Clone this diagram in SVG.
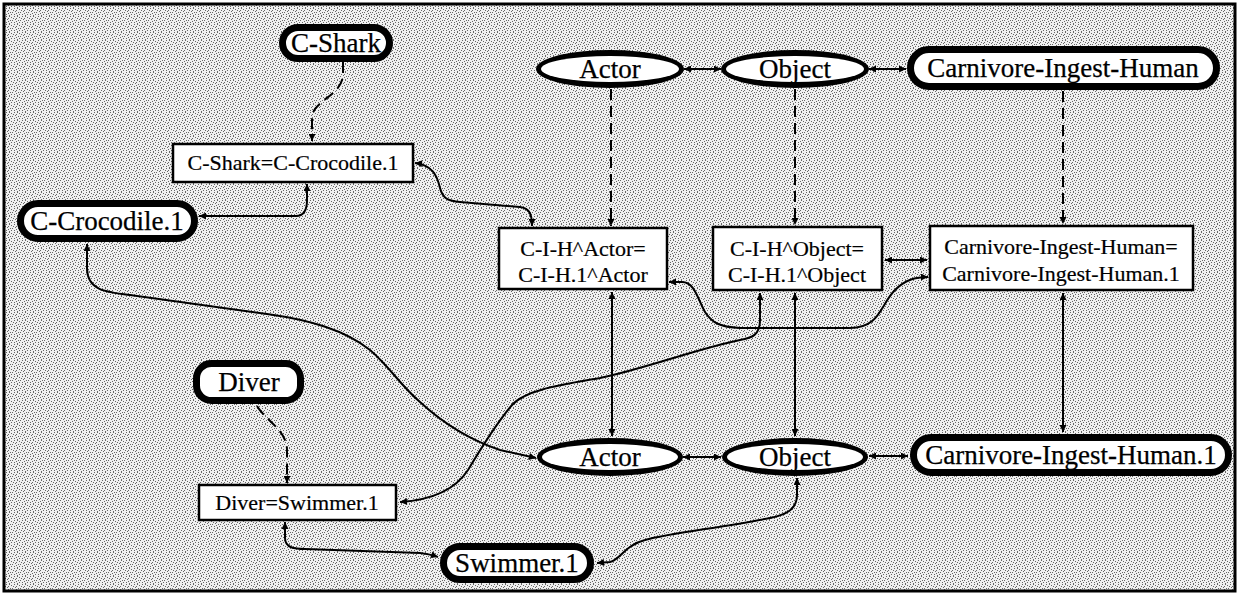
<svg xmlns="http://www.w3.org/2000/svg" width="1239" height="596" viewBox="0 0 1239 596">
  <defs>
    <!-- dithered grey paper -->
    <pattern id="dither" width="8" height="8" patternUnits="userSpaceOnUse">
      <rect width="8" height="8" fill="#f0f0f0"/>
      <g fill="#666">
        <rect x="1" y="0" width="1" height="1"/>
        <rect x="6" y="0" width="1" height="1"/>
        <rect x="3" y="1" width="1" height="1"/>
        <rect x="0" y="2" width="1" height="1"/>
        <rect x="5" y="2" width="1" height="1"/>
        <rect x="7" y="3" width="1" height="1"/>
        <rect x="2" y="4" width="1" height="1"/>
        <rect x="4" y="4" width="1" height="1"/>
        <rect x="0" y="5" width="1" height="1"/>
        <rect x="6" y="6" width="1" height="1"/>
        <rect x="3" y="6" width="1" height="1"/>
        <rect x="1" y="7" width="1" height="1"/>
      </g>
    </pattern>
    <marker id="head" viewBox="0 0 10 10" refX="10" refY="5" markerWidth="9" markerHeight="7" markerUnits="userSpaceOnUse" orient="auto-start-reverse">
      <path d="M0,0 L10,5 L0,10 z" fill="#000"/>
    </marker>
  </defs>
  <style>
    .pill { fill: #fff; stroke: #000; stroke-width: 7; }
    .box { fill: #fff; stroke: #000; stroke-width: 2.5; }
    .ring { fill: #000; }
    .hole { fill: #fff; }
    .big { font-family: "Liberation Serif", "Times New Roman", serif; font-size: 27px; text-anchor: middle; fill: #000; stroke: #000; stroke-width: 0.25; }
    .small { font-family: "Liberation Serif", "Times New Roman", serif; font-size: 22px; text-anchor: middle; fill: #000; stroke: #000; stroke-width: 0.2; }
    .link { fill: none; stroke: #000; stroke-width: 2; }
    .both { marker-start: url(#head); marker-end: url(#head); }
    .one { marker-end: url(#head); }
    .dash { stroke-dasharray: 11 6; }
  </style>

  <!-- frame -->
  <rect x="0" y="0" width="1239" height="596" fill="#fff"/>
  <rect x="4" y="4" width="1231" height="587" fill="url(#dither)" stroke="#000" stroke-width="3"/>

  <!-- connectors -->
  <g id="connectors">
    <path class="link dash one" d="M343 62 L343 74 C343 96 312 100 312 118 L312 141"/>
    <path class="link both" d="M199 216 L296 216 C304 216 307 210 307 200 L307 184"/>
    <path class="link both" d="M415 163 C432 165 437 175 440 188 C443 200 450 201 460 202 L520 207 C528 208 532 212 532 226"/>
    <path class="link both" d="M684 69 L721 69"/>
    <path class="link both" d="M869 69 L906 69"/>
    <path class="link dash one" d="M611 89 L611 226"/>
    <path class="link dash one" d="M795 89 L795 225"/>
    <path class="link dash one" d="M1063 91 L1063 224"/>
    <path class="link both" d="M885 260 L927 260"/>
    <path class="link both" d="M669 282 L682 282 C695 282 698 300 705 312 C712 323 720 327 740 328 L850 328 C880 328 880 305 895 290 C905 280 915 277 928 277"/>
    <path class="link both" d="M760 293 L760 320 C760 335 752 338 740 340 C700 348 640 370 600 378 C560 385 525 390 512 405 C495 425 480 450 468 470 C455 490 432 500 400 502"/>
    <path class="link both" d="M612 292 L612 436"/>
    <path class="link both" d="M795 293 L795 436"/>
    <path class="link both" d="M1063 293 L1063 432"/>
    <path class="link both" d="M683 457 L721 457"/>
    <path class="link both" d="M869 456 L908 456"/>
    <path class="link both" d="M87 244 L87 268 C87 290 105 292 130 295 L267 314 C310 320 345 330 370 350 C390 367 400 385 420 402 C445 425 470 440 500 450 L536 458"/>
    <path class="link dash one" d="M257 406 C265 420 287 430 287 450 L287 483"/>
    <path class="link both" d="M285 522 L285 538 C285 548 295 549 305 549 L420 553 C430 554 435 556 438 557"/>
    <path class="link both" d="M797 478 L797 495 C797 510 785 515 770 518 C720 528 670 533 645 540 C625 545 620 560 610 562 L597 563"/>
  </g>

  <g id="c-shark">
    <rect class="pill" x="282.5" y="27.5" width="107" height="31" rx="15.5"/>
    <text class="big" x="336" y="52">C-Shark</text>
  </g>
  <g id="c-shark-eq">
    <rect class="box" x="173" y="144" width="240" height="38"/>
    <text class="small" x="293" y="170">C-Shark=C-Crocodile.1</text>
  </g>
  <g id="c-crocodile">
    <rect class="pill" x="20.5" y="203.5" width="174" height="35" rx="17.5"/>
    <text class="big" x="107" y="230">C-Crocodile.1</text>
  </g>

  <g id="actor-top">
    <ellipse class="ring" cx="610" cy="69" rx="74" ry="19"/>
    <ellipse class="hole" cx="610" cy="69" rx="69" ry="13"/>
    <text class="big" x="610" y="78">Actor</text>
  </g>
  <g id="object-top">
    <ellipse class="ring" cx="795" cy="69" rx="74" ry="19"/>
    <ellipse class="hole" cx="795" cy="69" rx="69" ry="13"/>
    <text class="big" x="795" y="78">Object</text>
  </g>
  <g id="cih-top">
    <rect class="pill" x="910.5" y="49.5" width="306" height="37" rx="18.5"/>
    <text class="big" x="1063" y="77">Carnivore-Ingest-Human</text>
  </g>

  <g id="cih-actor">
    <rect class="box" x="499" y="228" width="168" height="61"/>
    <text class="small" x="583" y="256">C-I-H^Actor=</text>
    <text class="small" x="583" y="282">C-I-H.1^Actor</text>
  </g>
  <g id="cih-object">
    <rect class="box" x="713" y="227" width="169" height="63"/>
    <text class="small" x="797" y="256">C-I-H^Object=</text>
    <text class="small" x="797" y="282">C-I-H.1^Object</text>
  </g>
  <g id="cih-eq">
    <rect class="box" x="930" y="226" width="263" height="64"/>
    <text class="small" x="1061" y="254">Carnivore-Ingest-Human=</text>
    <text class="small" x="1061" y="281">Carnivore-Ingest-Human.1</text>
  </g>

  <g id="actor-bottom">
    <ellipse class="ring" cx="610" cy="457" rx="73" ry="19"/>
    <ellipse class="hole" cx="610" cy="457" rx="68" ry="13"/>
    <text class="big" x="610" y="466">Actor</text>
  </g>
  <g id="object-bottom">
    <ellipse class="ring" cx="795" cy="457" rx="73" ry="19"/>
    <ellipse class="hole" cx="795" cy="457" rx="68" ry="13"/>
    <text class="big" x="795" y="466">Object</text>
  </g>
  <g id="cih-one">
    <rect class="pill" x="913.5" y="437.5" width="315" height="35" rx="17.5"/>
    <text class="big" x="1071" y="464">Carnivore-Ingest-Human.1</text>
  </g>

  <g id="diver">
    <rect class="pill" x="196.5" y="363.5" width="104" height="37" rx="15"/>
    <text class="big" x="249" y="391">Diver</text>
  </g>
  <g id="diver-eq">
    <rect class="box" x="199" y="485" width="197" height="35"/>
    <text class="small" x="297" y="510">Diver=Swimmer.1</text>
  </g>
  <g id="swimmer">
    <rect class="pill" x="443.5" y="546.5" width="147" height="33" rx="16.5"/>
    <text class="big" x="517" y="572">Swimmer.1</text>
  </g>
</svg>
